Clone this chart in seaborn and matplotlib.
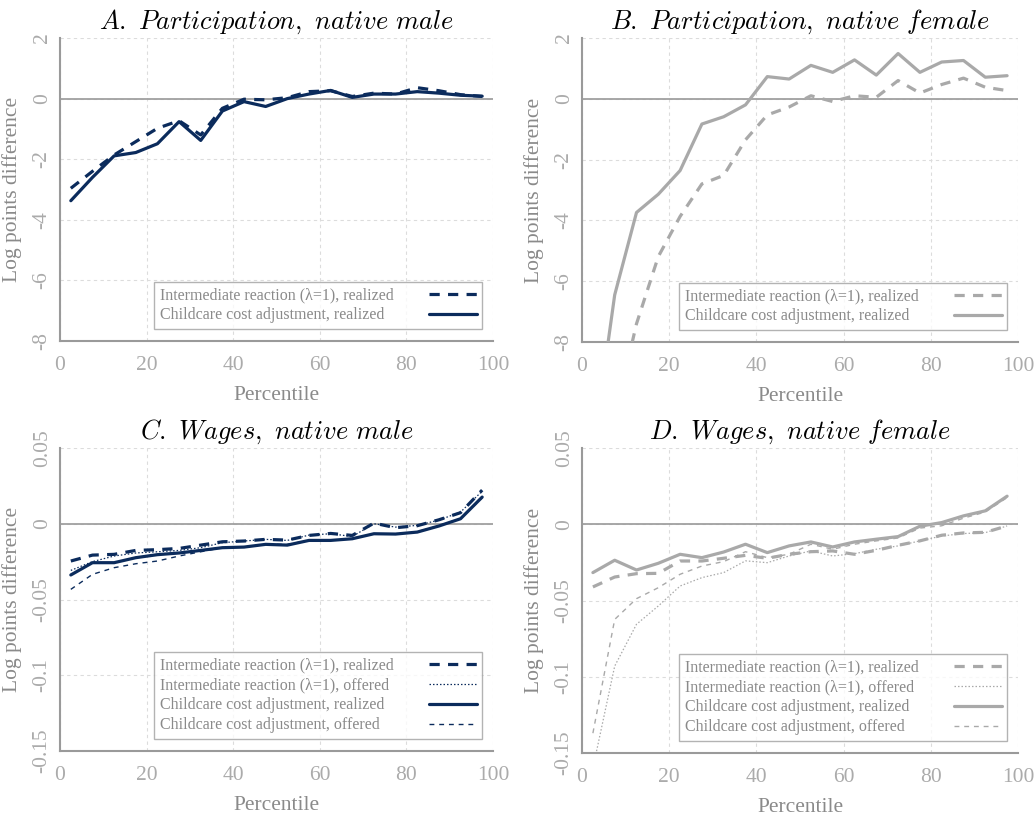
import numpy as np
import pandas as pd
import matplotlib
matplotlib.use("Agg")
import matplotlib.pyplot as plt
from matplotlib.ticker import AutoMinorLocator, FixedLocator, FixedFormatter
import seaborn as sns

sns.set_style("white")
plt.rcParams['font.family'] = ['Liberation Serif', 'DejaVu Serif']
plt.rcParams['mathtext.fontset'] = 'cm'
plt.rcParams['axes.unicode_minus'] = False

pct = [2.5, 7.5, 12.5, 17.5, 22.5, 27.5, 32.5, 37.5, 42.5, 47.5,
       52.5, 57.5, 62.5, 67.5, 72.5, 77.5, 82.5, 87.5, 92.5, 97.5]

# A. participation, native male
part_m_inter = [-2.96, -2.40, -1.86, -1.42, -0.98, -0.73, -1.20, -0.32, -0.02, -0.04,
                0.03, 0.23, 0.26, 0.07, 0.18, 0.15, 0.36, 0.26, 0.13, 0.07]
part_m_child = [-3.37, -2.60, -1.89, -1.78, -1.49, -0.76, -1.38, -0.41, -0.10, -0.26,
                0.00, 0.15, 0.27, 0.04, 0.15, 0.15, 0.23, 0.18, 0.11, 0.08]

# B. participation, native female
part_f_inter = [-14.0, -10.5, -7.40, -5.19, -3.87, -2.80, -2.52, -1.35, -0.53, -0.27,
                0.10, -0.09, 0.10, 0.05, 0.60, 0.19, 0.47, 0.68, 0.38, 0.27]
part_f_child = [-11.6, -6.45, -3.74, -3.14, -2.36, -0.83, -0.59, -0.20, 0.73, 0.65,
                1.10, 0.87, 1.28, 0.78, 1.49, 0.87, 1.21, 1.26, 0.71, 0.76]

# C. wages, native male
wage_m_inter_real = [-0.0246, -0.0207, -0.0202, -0.0176, -0.0171, -0.0163, -0.0141, -0.0119, -0.0114, -0.0103,
                     -0.0108, -0.0077, -0.0064, -0.0077, 0.0004, -0.0026, -0.0013, 0.0026, 0.0073, 0.0222]
wage_m_inter_off = [-0.0308, -0.0250, -0.0213, -0.0193, -0.0185, -0.0176, -0.0158, -0.0125, -0.0114, -0.0103,
                    -0.0110, -0.0075, -0.0066, -0.0084, 0.0000, -0.0022, -0.0011, 0.0024, 0.0077, 0.0215]
wage_m_child_real = [-0.0338, -0.0257, -0.0257, -0.0224, -0.0204, -0.0193, -0.0176, -0.0158, -0.0154, -0.0136,
                     -0.0141, -0.0110, -0.0110, -0.0099, -0.0066, -0.0068, -0.0055, -0.0015, 0.0033, 0.0176]
wage_m_child_off = [-0.0433, -0.0334, -0.0290, -0.0264, -0.0246, -0.0213, -0.0185, -0.0158, -0.0154, -0.0136,
                    -0.0136, -0.0110, -0.0110, -0.0097, -0.0066, -0.0066, -0.0053, -0.0013, 0.0035, 0.0171]

# D. wages, native female
wage_f_inter_real = [-0.0411, -0.0346, -0.0324, -0.0322, -0.0241, -0.0241, -0.0223, -0.0204, -0.0223, -0.0197,
                     -0.0180, -0.0175, -0.0197, -0.0171, -0.0138, -0.0109, -0.0072, -0.0057, -0.0053, -0.0011]
wage_f_inter_off = [-0.1600, -0.0930, -0.0656, -0.0536, -0.0405, -0.0350, -0.0317, -0.0240, -0.0252, -0.0208,
                    -0.0175, -0.0208, -0.0193, -0.0164, -0.0142, -0.0109, -0.0077, -0.0061, -0.0055, -0.0011]
wage_f_child_real = [-0.0317, -0.0236, -0.0300, -0.0256, -0.0197, -0.0219, -0.0182, -0.0131, -0.0186, -0.0142,
                     -0.0116, -0.0149, -0.0116, -0.0098, -0.0081, -0.0013, 0.0011, 0.0055, 0.0088, 0.0184]
wage_f_child_off = [-0.1370, -0.0624, -0.0488, -0.0416, -0.0328, -0.0274, -0.0245, -0.0180, -0.0219, -0.0197,
                    -0.0131, -0.0164, -0.0131, -0.0109, -0.0090, -0.0025, -0.0010, 0.0040, 0.0080, 0.0175]

lab_inter_real = "Intermediate reaction (\u03bb=1), realized"
lab_inter_off = "Intermediate reaction (\u03bb=1), offered"
lab_child_real = "Childcare cost adjustment, realized"
lab_child_off = "Childcare cost adjustment, offered"

navy = "#0b2b5c"
grey_line = "#a9a9a9"
tick_col = "#ababab"
label_col = "#8a8a8a"
spine_col = "#9a9a9a"

styles = {
    "inter_real": dict(lw=2.3, linestyle=(0, (3.2, 2.6))),
    "inter_off": dict(lw=0.9, linestyle=(0, (1.2, 1.6))),
    "child_real": dict(lw=2.3, linestyle="-"),
    "child_off": dict(lw=1.0, linestyle=(0, (3.5, 3.5))),
}


def style_axes(ax, ylim, yticks, yticklabels):
    ax.set_xlim(0, 100)
    ax.set_ylim(*ylim)
    ax.xaxis.set_major_locator(FixedLocator([0, 20, 40, 60, 80, 100]))
    ax.yaxis.set_major_locator(FixedLocator(yticks))
    ax.yaxis.set_major_formatter(FixedFormatter(yticklabels))
    ax.xaxis.set_minor_locator(AutoMinorLocator(5))
    ax.yaxis.set_minor_locator(AutoMinorLocator(5))
    ax.grid(True, which="major", color="#dcdcdc", linestyle=(0, (3, 3)), lw=0.8)
    ax.axhline(0, color="#a0a0a0", lw=1.3, zorder=1)
    for s in ["top", "right"]:
        ax.spines[s].set_visible(False)
    for s in ["left", "bottom"]:
        ax.spines[s].set_color(spine_col)
        ax.spines[s].set_linewidth(1.5)
    ax.tick_params(axis="both", which="major", direction="out", length=5, width=1,
                   color=spine_col, labelcolor=tick_col, labelsize=15.5)
    ax.tick_params(axis="both", which="minor", direction="in", length=3, width=0.8,
                   color=spine_col)
    ax.tick_params(axis="x", which="major", pad=6)
    ax.tick_params(axis="y", which="major", pad=1)
    for t in ax.get_yticklabels():
        t.set_rotation(90)
        t.set_va("center")
    ax.set_xlabel("Percentile", color=label_col, fontsize=15.5, labelpad=8)
    ax.set_ylabel("Log points difference", color=label_col, fontsize=15.5, labelpad=8)


def draw_panel(ax, series, color, title, ylim, yticks, yticklabels, legend_anchor):
    for key, label, vals in series:
        df = pd.DataFrame({"pct": pct, "val": vals})
        sns.lineplot(data=df, x="pct", y="val", ax=ax, color=color, label=label,
                     zorder=3, **styles[key])
    style_axes(ax, ylim, yticks, yticklabels)
    ax.set_title(title, fontsize=19, color="black", pad=7)
    leg = ax.legend(loc="lower right", bbox_to_anchor=legend_anchor, markerfirst=False,
                    fontsize=11.5, frameon=True, fancybox=False, handlelength=3.0,
                    handletextpad=2.2, borderpad=0.35, labelspacing=0.25,
                    borderaxespad=0)
    leg.get_frame().set_edgecolor("#a0a0a0")
    leg.get_frame().set_linewidth(1.0)
    for t in leg.get_texts():
        t.set_color(label_col)
    return leg


fig = plt.figure(figsize=(10.36, 8.16), dpi=100)
W, H = 1036, 816
axA = fig.add_axes([60 / W, 1 - 341 / H, 433 / W, 303 / H])
axB = fig.add_axes([582 / W, 1 - 342 / H, 436 / W, 304 / H])
axC = fig.add_axes([60 / W, 1 - 751 / H, 433 / W, 303 / H])
axD = fig.add_axes([582 / W, 1 - 753 / H, 436 / W, 305 / H])

part_ticks = [-8, -6, -4, -2, 0, 2]
part_labels = ["-8", "-6", "-4", "-2", "0", "2"]
wage_ticks = [-0.15, -0.1, -0.05, 0, 0.05]
wage_labels = ["-0.15", "-0.1", "-0.05", "0", "0.05"]

legends = []
legends.append(draw_panel(axA, [("inter_real", lab_inter_real, part_m_inter),
                                ("child_real", lab_child_real, part_m_child)],
                          navy, r"$\mathit{A.\ Participation,\ native\ male}$",
                          (-8, 2), part_ticks, part_labels, (0.975, 0.04)))
legends.append(draw_panel(axB, [("inter_real", lab_inter_real, part_f_inter),
                                ("child_real", lab_child_real, part_f_child)],
                          grey_line, r"$\mathit{B.\ Participation,\ native\ female}$",
                          (-8, 2), part_ticks, part_labels, (0.975, 0.04)))
legends.append(draw_panel(axC, [("inter_real", lab_inter_real, wage_m_inter_real),
                                ("inter_off", lab_inter_off, wage_m_inter_off),
                                ("child_real", lab_child_real, wage_m_child_real),
                                ("child_off", lab_child_off, wage_m_child_off)],
                          navy, r"$\mathit{C.\ Wages,\ native\ male}$",
                          (-0.15, 0.05), wage_ticks, wage_labels, (0.975, 0.04)))
legends.append(draw_panel(axD, [("inter_real", lab_inter_real, wage_f_inter_real),
                                ("inter_off", lab_inter_off, wage_f_inter_off),
                                ("child_real", lab_child_real, wage_f_child_real),
                                ("child_off", lab_child_off, wage_f_child_off)],
                          grey_line, r"$\mathit{D.\ Wages,\ native\ female}$",
                          (-0.15, 0.05), wage_ticks, wage_labels, (0.975, 0.04)))

# left-align the legend texts while keeping the line samples in a right column
fig.canvas.draw()
renderer = fig.canvas.get_renderer()
for leg in legends:
    widths = [t.get_window_extent(renderer).width for t in leg.get_texts()]
    col = leg._legend_handle_box.get_children()[0]
    col.align = "left"
    for item, w in zip(col.get_children(), widths):
        item.sep += (max(widths) - w) * 72 / fig.dpi

fig.savefig("out.png", dpi=100)
